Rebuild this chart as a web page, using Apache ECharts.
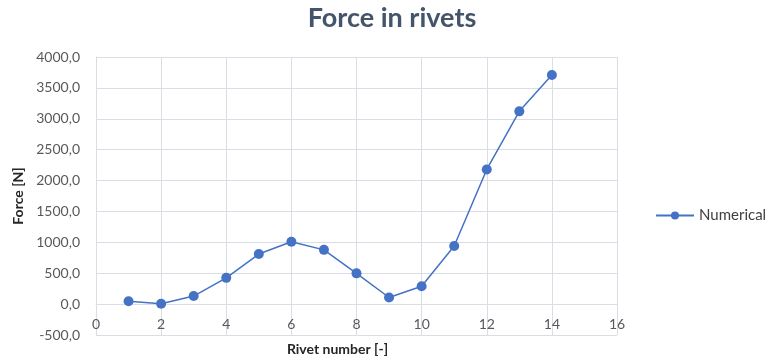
<!DOCTYPE html>
<html>
<head>
<meta charset="utf-8">
<script src="https://cdn.jsdelivr.net/npm/echarts@6/dist/echarts.min.js"></script>
<style>
  html, body { margin: 0; padding: 0; background: #ffffff; }
  #chart { width: 772px; height: 360px; }
</style>
</head>
<body>
<div id="chart"></div>
<script>
// Rivet index and computed force per rivet
const rivetNumbers = [1, 2, 3, 4, 5, 6, 7, 8, 9, 10, 11, 12, 13, 14];
const forceNumerical = [45, 5, 130, 425, 810, 1010, 878, 498, 107, 288, 940, 2180, 3120, 3710];
const seriesName = 'Numerical';

const chart = echarts.init(document.getElementById('chart'), null, { renderer: 'canvas' });
const font = 'Lato, "Open Sans", sans-serif';
const gridColor = '#D9DEE6';
const labelColor = '#595959';

chart.setOption({
  animation: false,
  backgroundColor: '#ffffff',
  title: {
    text: 'Force in rivets',
    left: 387,
    top: 0,
    textAlign: 'center',
    textStyle: { fontFamily: font, fontWeight: 'bold', fontSize: 27, color: '#44546A' }
  },
  legend: {
    data: [seriesName],
    left: 650,
    top: 203,
    itemWidth: 38,
    itemHeight: 10,
    itemGap: 4,
    textStyle: { fontFamily: font, fontSize: 15, color: '#404040' }
  },
  grid: { left: 96, right: 155, top: 57, bottom: 25, outerBoundsMode: 'none', containLabel: false },
  xAxis: {
    type: 'value',
    min: 0,
    max: 16,
    interval: 2,
    name: 'Rivet number [-]',
    nameLocation: 'middle',
    nameGap: 7,
    nameTextStyle: { fontFamily: font, fontWeight: 'bold', fontSize: 14, color: '#262626', padding: [0, 38, 0, 0] },
    axisLine: { show: true, lineStyle: { color: gridColor } },
    axisTick: { show: false },
    // tick labels sit just under the zero line
    axisLabel: { margin: -18, fontFamily: font, fontSize: 14, color: labelColor },
    splitLine: { show: true, lineStyle: { color: gridColor, width: 1 } }
  },
  yAxis: {
    type: 'value',
    min: -500,
    max: 4000,
    interval: 500,
    name: 'Force [N]',
    nameLocation: 'middle',
    nameGap: 70,
    nameTextStyle: { fontFamily: font, fontWeight: 'bold', fontSize: 14, color: '#262626' },
    axisLine: { show: true, lineStyle: { color: gridColor } },
    axisTick: { show: false },
    axisLabel: {
      margin: 16,
      fontFamily: font,
      fontSize: 14,
      color: labelColor,
      formatter: v => v.toFixed(1).replace('.', ',')
    },
    splitLine: { show: true, lineStyle: { color: gridColor, width: 1 } }
  },
  series: [{
    name: seriesName,
    type: 'line',
    data: rivetNumbers.map((r, i) => [r, forceNumerical[i]]),
    symbol: 'circle',
    symbolSize: 10,
    lineStyle: { color: '#4472C4', width: 1.5 },
    itemStyle: { color: '#4472C4' }
  }]
});
</script>
</body>
</html>
